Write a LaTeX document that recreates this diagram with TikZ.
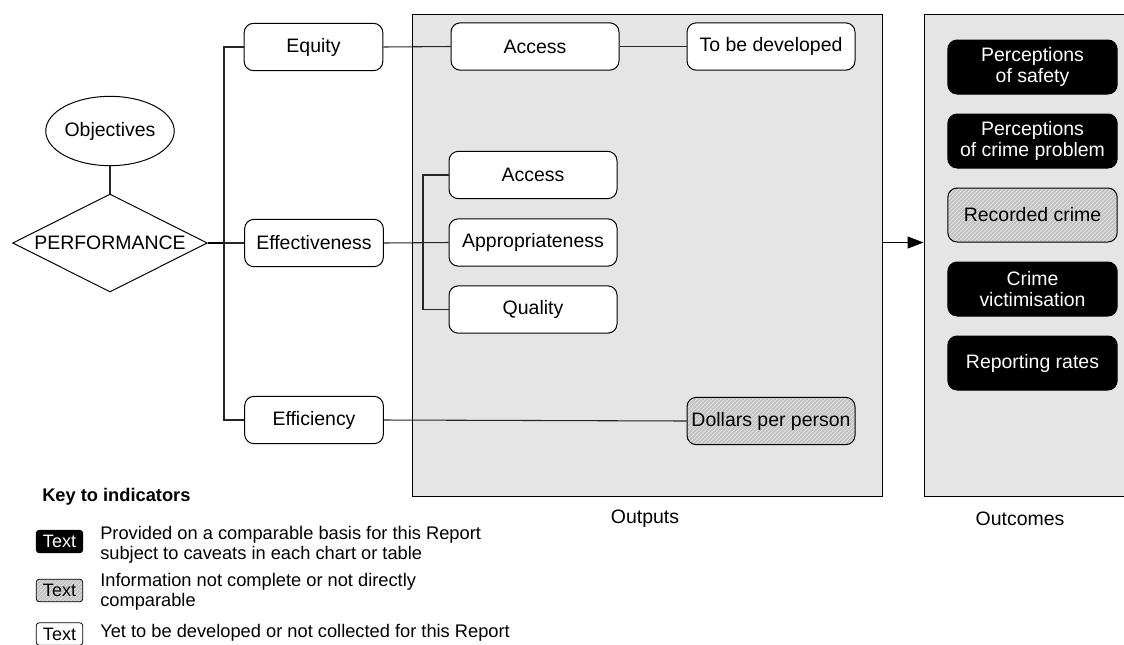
\documentclass[tikz,border=0pt]{standalone}
\usepackage{fontspec}
\setmainfont{Liberation Sans}
\usetikzlibrary{shapes.geometric,patterns,arrows.meta}
\begin{document}
\begin{tikzpicture}[x=0.75pt,y=-0.75pt,
  base/.style={font=\fontsize{14.6}{15.75}\selectfont,inner sep=0pt,align=center},
  box/.style={base,draw=black,line width=0.75pt,rounded corners=7pt,fill=white},
  ibox/.style={box,minimum width=126pt,minimum height=35.5pt},
  lbox/.style={box,minimum width=104pt,minimum height=35.5pt},
  obox/.style={box,minimum width=127pt,minimum height=40.5pt},
  blackfill/.style={fill=black,text=white},
  hatch/.style={preaction={fill=black!24},pattern={north east lines},pattern color=white!92!black},
  panel/.style={draw=black,line width=0.75pt,fill=black!10,inner sep=0pt},
  conn/.style={draw=black!85,line width=0.8pt},
  keybox/.style={draw=black,line width=0.6pt,rounded corners=2.5pt,inner sep=0pt,minimum width=35pt,minimum height=17pt,font=\fontsize{13.5}{14}\selectfont},
  keytext/.style={anchor=west,align=left,inner sep=0pt,font=\fontsize{13.7}{15}\selectfont},
  captext/.style={base}
]
\useasboundingbox (0,0) rectangle (1124,644);

% panels
\node[panel,minimum width=352.5pt,minimum height=361.5pt] (outputs) at (647,255) {};
\node[panel,minimum width=154.5pt,minimum height=361.5pt] (outcomes) at (1027,255) {};
\node[captext] (outlab) at (645,519) {Outputs};
\node[captext] (outclab) at (1020,519) {Outcomes};

% left part
\node[ellipse,draw=black,line width=0.75pt,minimum width=82.5pt,minimum height=52pt,inner sep=0pt,base] (obj) at (110,131) {Objectives};
\node[diamond,draw=black,line width=0.75pt,aspect=2,minimum width=146pt,minimum height=73.5pt,inner sep=0pt,base] (perf) at (110,243) {PERFORMANCE};

\node[lbox] (equity) at (313.5,47) {Equity};
\node[lbox] (eff) at (314,243) {Effectiveness};
\node[lbox] (effic) at (314,420) {Efficiency};

% outputs
\node[ibox] (acc1) at (535,46.5) {Access};
\node[ibox] (tbd) at (771,46.5) {To be developed};
\node[ibox] (acc2) at (533,175) {Access};
\node[ibox] (appr) at (533,242.5) {Appropriateness};
\node[ibox] (qual) at (533,309.5) {Quality};
\node[ibox,hatch] (dol) at (771,421) {Dollars per person};

% outcomes
\node[obox,blackfill] (o1) at (1032.5,67) {Perceptions\\of safety};
\node[obox,blackfill] (o2) at (1032.5,141) {Perceptions\\of crime problem};
\node[obox,hatch] (o3) at (1032.5,215) {Recorded crime};
\node[obox,blackfill] (o4) at (1032.5,289) {Crime\\victimisation};
\node[obox,blackfill] (o5) at (1032.5,363) {Reporting rates};

% connectors
\coordinate (trunk) at (224,243);
\coordinate (ttop) at (224,47);
\coordinate (tbot) at (224,420);
\coordinate (br) at (423,243);
\draw[conn] (obj.south) -- (perf.north);
\draw[draw=black,line width=1.6pt] (perf.east) -- (trunk);
\draw[conn] (equity.west) -- (ttop) -- (tbot) -- (effic.west);
\draw[conn] (trunk) -- (eff.west);
\draw[conn] (equity.east) -- (acc1.west);
\draw[conn] (acc1.east) -- (tbd.west);
\draw[conn] (eff.east) -- (appr.west);
\draw[conn] (acc2.west) -| (br) |- (qual.west);
\draw[conn] (effic.east) -- (dol.west);
\draw[draw=black,line width=0.8pt,-{Triangle[length=12pt,width=9pt]}] (outputs.east |- appr.center) -- (outcomes.west |- appr.center);

% key
\node[anchor=west,inner sep=0pt,font=\bfseries\fontsize{13.7}{15}\selectfont] (keyhead) at (42,497) {Key to indicators};
\node[keybox,blackfill] (kb1) at (59.5,541.5) {Text};
\node[keytext] (kd1) at (100,545) {Provided on a comparable basis for this Report\\subject to caveats in each chart or table};
\node[keybox,hatch] (kb2) at (59.5,590.5) {Text};
\node[keytext] (kd2) at (100,592) {Information not complete or not directly\\comparable};
\node[keybox,fill=white] (kb3) at (59.5,634) {Text};
\node[keytext] (kd3) at (100,633) {Yet to be developed or not collected for this Report};
\end{tikzpicture}
\end{document}
